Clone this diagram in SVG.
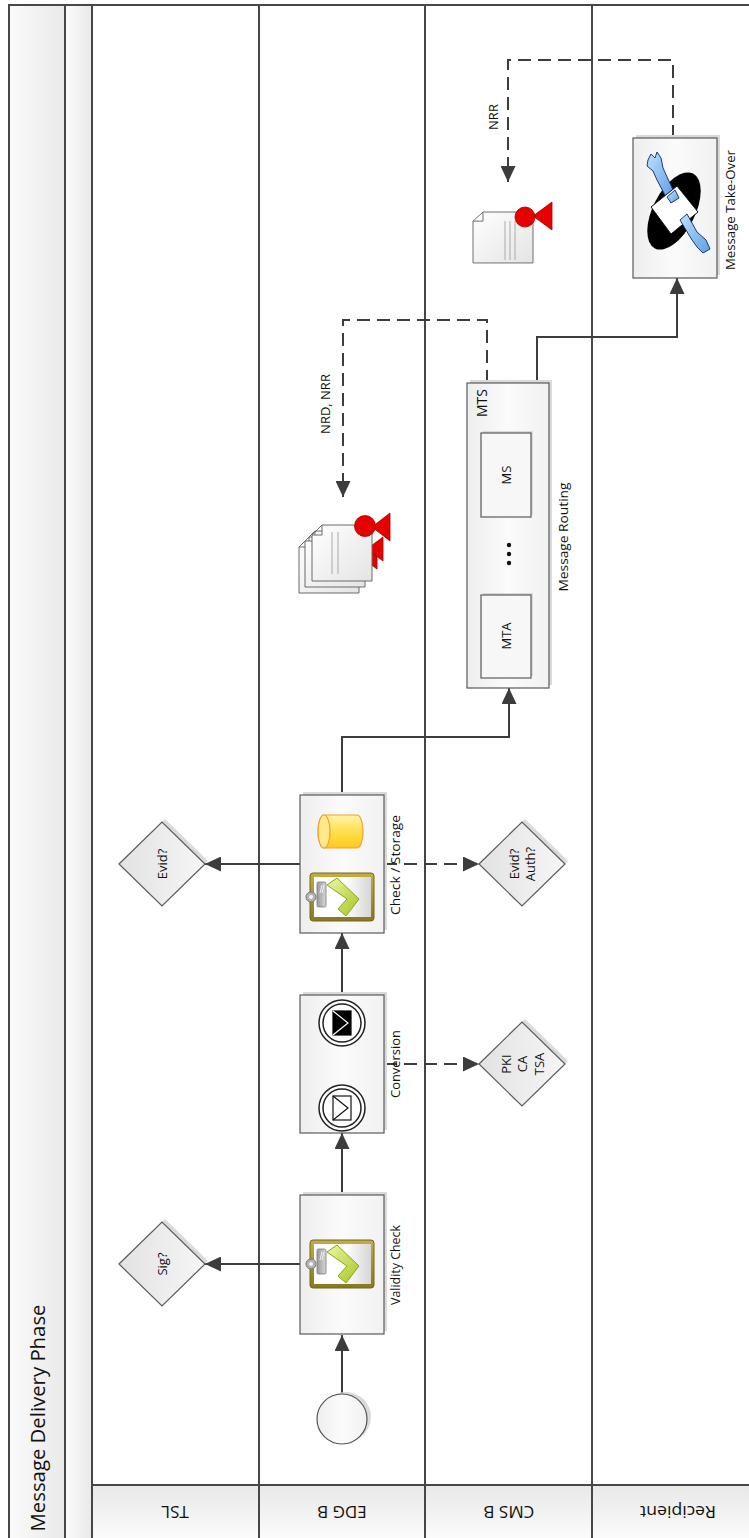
<svg xmlns="http://www.w3.org/2000/svg" width="749" height="1538" viewBox="0 0 749 1538">
  <defs>
    <linearGradient id="gHead" x1="0" y1="0" x2="1" y2="0">
      <stop offset="0" stop-color="#fbfbfb"/>
      <stop offset="1" stop-color="#e9e9e9"/>
    </linearGradient>
    <linearGradient id="gLaneHead" x1="0" y1="0" x2="0" y2="1">
      <stop offset="0" stop-color="#e8e8e8"/>
      <stop offset="1" stop-color="#fcfcfc"/>
    </linearGradient>
    <linearGradient id="gTask" x1="0" y1="0" x2="1" y2="0">
      <stop offset="0" stop-color="#eeeeee"/>
      <stop offset="0.5" stop-color="#fbfbfb"/>
      <stop offset="1" stop-color="#f1f1f1"/>
    </linearGradient>
    <linearGradient id="gGw" x1="0" y1="0" x2="1" y2="0">
      <stop offset="0" stop-color="#e2e2e2"/>
      <stop offset="1" stop-color="#f6f6f6"/>
    </linearGradient>
    <linearGradient id="gOlive" x1="0" y1="0" x2="0" y2="1">
      <stop offset="0" stop-color="#c2ad45"/>
      <stop offset="1" stop-color="#8a7820"/>
    </linearGradient>
    <linearGradient id="gPaper" x1="0" y1="0" x2="1" y2="0">
      <stop offset="0" stop-color="#ffffff"/>
      <stop offset="0.55" stop-color="#ffffff"/>
      <stop offset="1" stop-color="#d6d6d6"/>
    </linearGradient>
    <linearGradient id="gGreen" x1="0" y1="0" x2="1" y2="1">
      <stop offset="0" stop-color="#eef7a0"/>
      <stop offset="1" stop-color="#a6c526"/>
    </linearGradient>
    <linearGradient id="gClip" x1="0" y1="0" x2="1" y2="0">
      <stop offset="0" stop-color="#9a9a9a"/>
      <stop offset="1" stop-color="#d8d8d8"/>
    </linearGradient>
    <linearGradient id="gDb" x1="0" y1="0" x2="0" y2="1">
      <stop offset="0" stop-color="#fff3a8"/>
      <stop offset="0.6" stop-color="#ffdc40"/>
      <stop offset="1" stop-color="#ffc820"/>
    </linearGradient>
    <linearGradient id="gDoc" x1="0" y1="0" x2="1" y2="1">
      <stop offset="0" stop-color="#ffffff"/>
      <stop offset="1" stop-color="#e4e4e4"/>
    </linearGradient>
    <linearGradient id="gSleeve" x1="0" y1="0" x2="1" y2="1">
      <stop offset="0" stop-color="#bfe0ff"/>
      <stop offset="1" stop-color="#5f9fe6"/>
    </linearGradient>
    <marker id="arrow" markerUnits="userSpaceOnUse" markerWidth="17" markerHeight="15" refX="16" refY="7.5" orient="auto">
      <path d="M0,0 L16,7.5 L0,15 Z" fill="#3c3c3c"/>
    </marker>

    <!-- clipboard with green tick, centred on 0,0 -->
    <g id="clipboard">
      <rect x="-32" y="-24" width="64" height="48" rx="3" fill="url(#gOlive)" stroke="#76661a" stroke-width="1"/>
      <rect x="-28" y="-20" width="57" height="40" fill="url(#gPaper)"/>
      <polygon points="-15,-12 -5,-19 17,2 4,19 -4,12 5,2" fill="url(#gGreen)" stroke="#88a420" stroke-width="1"/>
      <rect x="-25" y="-15" width="9" height="25" rx="1.5" fill="url(#gClip)" stroke="#7a7a7a" stroke-width="0.8"/>
      <line x1="-20" y1="-12" x2="-22" y2="-4" stroke="#eeeeee" stroke-width="1"/>
      <line x1="-18" y1="-12" x2="-20" y2="-4" stroke="#eeeeee" stroke-width="1"/>
      <circle cx="-31" cy="0" r="5" fill="#b4b4b4" stroke="#777" stroke-width="1"/>
      <circle cx="-31" cy="0" r="2" fill="#f4f4f4"/>
    </g>

    <!-- page with a folded corner, 60 x 56 -->
    <path id="page" d="M10,0 H60 V56 H0 V10 Z M0,10 H10 V0"/>
  </defs>

  <style>
    .lane { stroke:#474747; stroke-width:2; fill:none; }
    .conn { stroke:#3c3c3c; stroke-width:2; fill:none; marker-end:url(#arrow); }
    .dash { stroke-dasharray:13 7; }
    .task { fill:url(#gTask); stroke:#5a5a5a; stroke-width:1.2; }
    .shadow { fill:#dadada; }
    .gw { fill:url(#gGw); stroke:#5a5a5a; stroke-width:1.2; }
    .lbl { font-family:"Open Sans","Noto Sans","DejaVu Sans",sans-serif; font-size:13px; fill:#111; text-anchor:middle; dominant-baseline:central; }
    .hd { font-family:"Open Sans","Noto Sans","DejaVu Sans",sans-serif; font-size:17px; fill:#111; text-anchor:middle; dominant-baseline:central; }
    .doc { fill:url(#gDoc); stroke:#6a6a6a; stroke-width:1; }
    .seal { fill:#e60000; stroke:#a00000; stroke-width:0.8; }
    .arm { fill:url(#gSleeve); stroke:#1c3c6c; stroke-width:1; stroke-linejoin:round; }
  </style>

  <!-- pool and lanes -->
  <g id="pool">
    <rect x="9" y="5" width="56" height="1535" fill="url(#gHead)"/>
    <rect x="65" y="5" width="27" height="1535" fill="url(#gHead)"/>
    <rect x="92" y="1485" width="660" height="55" fill="url(#gLaneHead)"/>
    <path class="lane" d="M9,1540 V5 H752"/>
    <line class="lane" x1="65" y1="5" x2="65" y2="1540"/>
    <line class="lane" x1="92" y1="5" x2="92" y2="1540"/>
    <line class="lane" x1="259" y1="5" x2="259" y2="1540"/>
    <line class="lane" x1="425" y1="5" x2="425" y2="1540"/>
    <line class="lane" x1="592" y1="5" x2="592" y2="1540"/>
    <line class="lane" x1="92" y1="1485" x2="752" y2="1485"/>
    <text transform="translate(37,1418) rotate(-90)" font-family="'Open Sans','Noto Sans',sans-serif" font-size="20" fill="#111" text-anchor="middle" dominant-baseline="central" textLength="227" lengthAdjust="spacingAndGlyphs">Message Delivery Phase</text>
    <text class="hd" transform="translate(175,1512) rotate(180)">TSL</text>
    <text class="hd" transform="translate(342,1512) rotate(180)">EDG B</text>
    <text class="hd" transform="translate(509,1512) rotate(180)">CMS B</text>
    <text class="hd" transform="translate(678,1512) rotate(180)" textLength="76" lengthAdjust="spacingAndGlyphs">Recipient</text>
  </g>

  <!-- connectors -->
  <g id="connectors">
    <line class="conn" x1="342" y1="1394" x2="342" y2="1335"/>
    <line class="conn" x1="342" y1="1195" x2="342" y2="1133"/>
    <line class="conn" x1="342" y1="1085" x2="342" y2="1046"/>
    <line class="conn" x1="342" y1="995" x2="342" y2="933"/>
    <line class="conn" x1="300" y1="1264" x2="205" y2="1264"/>
    <line class="conn" x1="300" y1="864" x2="205" y2="864"/>
    <line class="conn dash" x1="384" y1="1064" x2="479" y2="1064"/>
    <line class="conn dash" x1="384" y1="864" x2="479" y2="864"/>
    <polyline class="conn" points="342,795 342,737 509,737 509,688"/>
    <polyline class="conn dash" points="487,383 487,320 343,320 343,497"/>
    <polyline class="conn" points="537,383 537,337 677,337 677,278"/>
    <polyline class="conn dash" points="673,138 673,60 508,60 508,182"/>
    <text class="lbl" transform="translate(325,404) rotate(-90)">NRD, NRR</text>
    <text class="lbl" transform="translate(493,117) rotate(-90)">NRR</text>
  </g>

  <!-- start event -->
  <g id="start">
    <circle cx="346" cy="1417" r="25" class="shadow"/>
    <circle cx="342" cy="1419" r="25" fill="url(#gTask)" stroke="#555" stroke-width="1.2"/>
  </g>

  <!-- Validity Check -->
  <g id="validity-check">
    <rect class="shadow" x="303" y="1192" width="84" height="139"/>
    <rect class="task" x="300" y="1195" width="84" height="139"/>
    <use href="#clipboard" x="342" y="1264"/>
    <text class="lbl" transform="translate(395,1265) rotate(-90)" textLength="80" lengthAdjust="spacingAndGlyphs">Validity Check</text>
  </g>

  <!-- Sig? -->
  <g id="sig">
    <polygon class="shadow" points="122,1261 165,1219 208,1261 165,1303"/>
    <polygon class="gw" points="119,1264 162,1222 205,1264 162,1306"/>
    <text class="lbl" transform="translate(162,1264) rotate(-90)">Sig?</text>
  </g>

  <!-- Conversion -->
  <g id="conversion">
    <rect class="shadow" x="303" y="992" width="84" height="138"/>
    <rect class="task" x="300" y="995" width="84" height="138"/>
    <circle cx="342" cy="1108" r="23" fill="#fff" stroke="#222" stroke-width="1.5"/>
    <circle cx="342" cy="1108" r="19" fill="#fff" stroke="#222" stroke-width="1.5"/>
    <rect x="333" y="1096" width="18" height="24" fill="#fff" stroke="#111" stroke-width="1.2"/>
    <polyline points="333,1096 348,1108 333,1120" fill="none" stroke="#111" stroke-width="1.2"/>
    <circle cx="342" cy="1023" r="23" fill="#fff" stroke="#222" stroke-width="1.5"/>
    <circle cx="342" cy="1023" r="19" fill="#fff" stroke="#222" stroke-width="1.5"/>
    <rect x="333" y="1011" width="18" height="24" fill="#000" stroke="#000" stroke-width="1.2"/>
    <polyline points="333,1011 348,1023 333,1035" fill="none" stroke="#fff" stroke-width="1.2"/>
    <text class="lbl" transform="translate(395,1064) rotate(-90)" textLength="68" lengthAdjust="spacingAndGlyphs">Conversion</text>
  </g>

  <!-- PKI / CA / TSA -->
  <g id="pki">
    <polygon class="shadow" points="482,1061 525,1019 568,1061 525,1103"/>
    <polygon class="gw" points="479,1064 522,1022 565,1064 522,1106"/>
    <text class="lbl" transform="translate(506,1064) rotate(-90)">PKI</text>
    <text class="lbl" transform="translate(522,1064) rotate(-90)">CA</text>
    <text class="lbl" transform="translate(539,1064) rotate(-90)">TSA</text>
  </g>

  <!-- Check / Storage -->
  <g id="check-storage">
    <rect class="shadow" x="303" y="792" width="84" height="138"/>
    <rect class="task" x="300" y="795" width="84" height="138"/>
    <path d="M324,815 H357 A6,16.5 0 0 1 357,848 H324 A6,16.5 0 0 1 324,815 Z" fill="url(#gDb)" stroke="#f2a030" stroke-width="1.2"/>
    <ellipse cx="324" cy="831.5" rx="6" ry="16.5" fill="#ffe98a" stroke="#f2a030" stroke-width="1.2"/>
    <use href="#clipboard" x="342" y="897"/>
    <text class="lbl" transform="translate(395,865) rotate(-90)" textLength="100" lengthAdjust="spacingAndGlyphs">Check / Storage</text>
  </g>

  <!-- Evid? -->
  <g id="evid">
    <polygon class="shadow" points="122,861 165,819 208,861 165,903"/>
    <polygon class="gw" points="119,864 162,822 205,864 162,906"/>
    <text class="lbl" transform="translate(162,864) rotate(-90)">Evid?</text>
  </g>

  <!-- Evid? Auth? -->
  <g id="evid-auth">
    <polygon class="shadow" points="482,861 525,819 568,861 525,903"/>
    <polygon class="gw" points="479,864 522,822 565,864 522,906"/>
    <text class="lbl" transform="translate(514,864) rotate(-90)">Evid?</text>
    <text class="lbl" transform="translate(530,864) rotate(-90)">Auth?</text>
  </g>

  <!-- MTS -->
  <g id="mts">
    <rect class="shadow" x="470" y="380" width="82" height="305"/>
    <rect class="task" x="467" y="383" width="82" height="305"/>
    <rect class="shadow" x="483" y="431" width="50" height="84"/>
    <rect x="481" y="433" width="50" height="84" fill="#f7f7f7" stroke="#5a5a5a" stroke-width="1.2"/>
    <rect class="shadow" x="483" y="593" width="50" height="83"/>
    <rect x="481" y="595" width="50" height="83" fill="#f7f7f7" stroke="#5a5a5a" stroke-width="1.2"/>
    <text class="lbl" transform="translate(506,475) rotate(-90)">MS</text>
    <text class="lbl" transform="translate(506,636) rotate(-90)">MTA</text>
    <circle cx="509" cy="545" r="2.2" fill="#111"/>
    <circle cx="509" cy="554" r="2.2" fill="#111"/>
    <circle cx="509" cy="563" r="2.2" fill="#111"/>
    <text class="lbl" transform="translate(481,403) rotate(-90)" style="font-size:14px">MTS</text>
    <text class="lbl" transform="translate(563,537) rotate(-90)" textLength="109" lengthAdjust="spacingAndGlyphs">Message Routing</text>
  </g>

  <!-- NRD, NRR evidence stack -->
  <g id="nrd-stack">
    <polygon class="seal" points="361,557 377,545 377,569"/>
    <use href="#page" class="doc" x="299" y="537"/>
    <polygon class="seal" points="367,549 383,537 383,561"/>
    <use href="#page" class="doc" x="305" y="531"/>
    <line x1="318" y1="572" x2="318" y2="580" stroke="#aaa"/>
    <line x1="324" y1="572" x2="324" y2="580" stroke="#aaa"/>
    <use href="#page" class="doc" x="312" y="525"/>
    <line x1="332" y1="532" x2="332" y2="574" stroke="#aaa"/>
    <line x1="338" y1="532" x2="338" y2="574" stroke="#aaa"/>
    <polygon class="seal" points="372,527 390,513 390,541"/>
    <circle class="seal" cx="365" cy="526" r="10.5"/>
  </g>

  <!-- NRR evidence -->
  <g id="nrr-doc">
    <use href="#page" class="doc" transform="translate(473,212) scale(1,0.91)"/>
    <line x1="505" y1="221" x2="505" y2="260" stroke="#aaa"/>
    <line x1="510" y1="221" x2="510" y2="260" stroke="#aaa"/>
    <line x1="515" y1="221" x2="515" y2="260" stroke="#aaa"/>
    <polygon class="seal" points="533,216 552,202 552,230"/>
    <circle class="seal" cx="525" cy="217" r="10"/>
  </g>

  <!-- Message Take-Over -->
  <g id="take-over">
    <rect class="shadow" x="636" y="135" width="84" height="140"/>
    <rect class="task" x="633" y="138" width="84" height="140"/>
    <ellipse cx="674" cy="211" rx="21" ry="42" transform="rotate(27 674 211)" fill="#000"/>
    <!-- upper hand and sleeve -->
    <path class="arm" d="M648,160 L651,154 L655,158 L657,152 L661,158 L663,168 L673,190 L666,197 L657,180 L653,171 L647,166 Z"/>
    <polygon points="651,207 677,186 698,212 671,234" fill="#fff" stroke="#111" stroke-width="1"/>
    <path class="arm" d="M667,197 L675,190 L679,198 L671,203 Z"/>
    <!-- lower hand and sleeve -->
    <path class="arm" d="M680,220 L687,214 L697,232 L706,240 L710,249 L703,253 L697,247 L692,240 Z"/>
    <text class="lbl" transform="translate(730,210) rotate(-90)" textLength="120" lengthAdjust="spacingAndGlyphs">Message Take-Over</text>
  </g>
</svg>
